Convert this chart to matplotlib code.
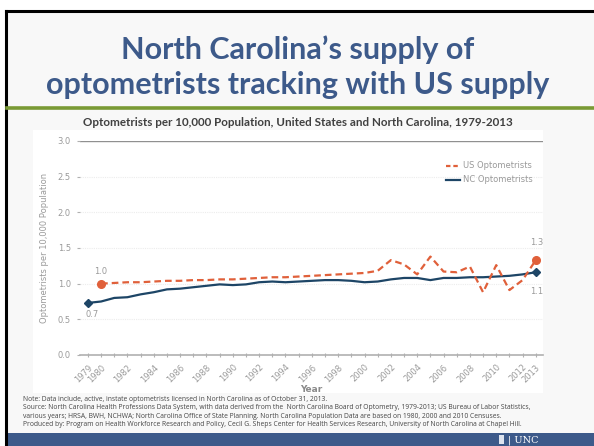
import numpy as np
import matplotlib
matplotlib.use("Agg")
import matplotlib.pyplot as plt
from matplotlib.patches import Rectangle
from matplotlib.lines import Line2D

W, H = 594, 446

# ---- data ----
nc_years = list(range(1979, 2014))
nc_vals = [0.73, 0.75, 0.80, 0.81, 0.85, 0.88, 0.92, 0.93, 0.95, 0.97,
           0.99, 0.98, 0.99, 1.02, 1.03, 1.02, 1.03, 1.04, 1.05, 1.05,
           1.04, 1.02, 1.03, 1.06, 1.08, 1.08, 1.05, 1.08, 1.08, 1.09,
           1.09, 1.10, 1.11, 1.13, 1.16]
us_years = list(range(1980, 2014))
us_vals = [1.00, 1.01, 1.02, 1.02, 1.03, 1.04, 1.04, 1.05, 1.05, 1.06,
           1.06, 1.07, 1.08, 1.09, 1.09, 1.10, 1.11, 1.12, 1.13, 1.14,
           1.15, 1.18, 1.33, 1.27, 1.13, 1.38, 1.17, 1.16, 1.24, 0.88,
           1.26, 0.91, 1.05, 1.33]
tick_years = [1979, 1980] + list(range(1982, 2013, 2)) + [2013]
yticks = [0.0, 0.5, 1.0, 1.5, 2.0, 2.5, 3.0]

TITLE = "North Carolina\u2019s supply of\noptometrists tracking with US supply"
SUBTITLE = "Optometrists per 10,000 Population, United States and North Carolina, 1979-2013"
NOTES = ("Note: Data include, active, instate optometrists licensed in North Carolina as of October 31, 2013.\n"
         "Source: North Carolina Health Professions Data System, with data derived from the  North Carolina Board of Optometry, 1979-2013; US Bureau of Labor Statistics,\n"
         "various years; HRSA, BWH, NCHWA; North Carolina Office of State Planning. North Carolina Population Data are based on 1980, 2000 and 2010 Censuses.\n"
         "Produced by: Program on Health Workforce Research and Policy, Cecil G. Sheps Center for Health Services Research, University of North Carolina at Chapel Hill.")

ORANGE = "#e0603a"
NAVY = "#1d4566"
SLIDE_BLUE = "#3d5a8a"
GREY = "#9a9a9a"


def fx(x):
    return x / W


def fy(y):
    return 1 - y / H


fig = plt.figure(figsize=(W / 100, H / 100), dpi=100)
fig.patch.set_facecolor("white")

# slide background, border, rules
bg = fig.add_axes([0, 0, 1, 1])
bg.set_xlim(0, W); bg.set_ylim(H, 0); bg.axis("off")
bg.add_patch(Rectangle((6, 11), W - 6, H - 11, facecolor="#f8f8f8", edgecolor="none"))
bg.add_patch(Rectangle((33, 130), 510, 263, facecolor="white", edgecolor="none"))
bg.plot([6, W], [11, 11], color="black", lw=2.2)
bg.plot([6, 6], [11, H], color="black", lw=2.2)
bg.plot([7, W], [108, 108], color="#7a9a35", lw=2.6)
bg.add_patch(Rectangle((7, 433), W - 7, 13, facecolor=SLIDE_BLUE, edgecolor="none"))
bg.add_patch(Rectangle((499, 435), 5, 9, facecolor="#dde3ee", edgecolor="none"))
bg.text(508, 440, "| UNC", color="white", fontsize=7, family="DejaVu Serif", va="center")

fig.text(fx(298), fy(67), TITLE, ha="center", va="center", fontsize=22,
         family="Lato", weight="bold", color=SLIDE_BLUE, linespacing=1.32)
fig.text(fx(298), fy(122), SUBTITLE, ha="center", va="center", fontsize=8.4,
         family="Lato", weight="bold", color="#404040")
fig.text(fx(23), fy(396), NOTES, ha="left", va="top", fontsize=4.85,
         family="Open Sans", color="#444444", linespacing=1.25)

# chart
ax = fig.add_axes([fx(80), fy(355), (543 - 80) / W, (355 - 141) / H])
ax.set_facecolor("none")
ax.set_xlim(1978.4, 2013.55)
ax.set_ylim(0, 3.0)
for s in ["left", "right", "top"]:
    ax.spines[s].set_visible(False)
ax.spines["bottom"].set_color("#b0b0b0")
ax.spines["bottom"].set_linewidth(1.2)

for v in yticks[1:-1]:
    ax.axhline(v, color="#ececec", lw=0.8, ls=(0, (1, 1)), zorder=0)
ax.axhline(3.0, color="#909090", lw=1.0, zorder=0)

ax.plot(nc_years, nc_vals, color=NAVY, lw=1.6, zorder=3)
ax.plot(us_years, us_vals, color=ORANGE, lw=1.6, ls=(0, (3, 1.8)), zorder=4)
ax.plot([nc_years[0], nc_years[-1]], [nc_vals[0], nc_vals[-1]], ls="none",
        marker="D", ms=4.2, color=NAVY, zorder=5)
ax.plot([us_years[0], us_years[-1]], [us_vals[0], us_vals[-1]], ls="none",
        marker="o", ms=5.5, color=ORANGE, zorder=5)

lab = dict(fontsize=6, color=GREY, ha="center", va="center")
ax.annotate(f"{us_vals[0]:.1f}", (us_years[0], us_vals[0]), xytext=(0, 9), textcoords="offset points", **lab)
ax.annotate(f"{nc_vals[0]:.1f}", (nc_years[0], nc_vals[0]), xytext=(3, -8), textcoords="offset points", **lab)
ax.annotate("1.3", (us_years[-1], us_vals[-1]), xytext=(1, 13), textcoords="offset points", **lab)
ax.annotate("1.1", (nc_years[-1], nc_vals[-1]), xytext=(1, -14), textcoords="offset points", **lab)

ax.set_yticks(yticks)
ax.set_yticklabels([f"{v:.1f}" for v in yticks])
ax.tick_params(axis="y", length=2.5, width=0.8, color="#b0b0b0", labelcolor=GREY,
               labelsize=6, pad=4)
ax.set_xticks(tick_years)
ax.set_xticklabels([str(y) for y in tick_years], rotation=45, ha="right",
                   rotation_mode="anchor")
ax.set_xticks(nc_years, minor=True)
ax.tick_params(axis="x", which="both", direction="inout", length=3, width=0.8,
               color="#b0b0b0", labelcolor=GREY, labelsize=6, pad=4)

ax.set_ylabel("Optometrists per 10,000 Population", fontsize=6, color=GREY, labelpad=6)
ax.set_xlabel("Year", fontsize=6.5, color="#8a8a8a", weight="bold", labelpad=1)

handles = [Line2D([], [], color=ORANGE, lw=1.6, ls=(0, (2, 1.3))),
           Line2D([], [], color=NAVY, lw=1.6)]
ax.legend(handles, ["US Optometrists", "NC Optometrists"], loc="upper right",
          bbox_to_anchor=(0.985, 0.92), frameon=False, fontsize=6,
          labelcolor=GREY, handlelength=1.6, handletextpad=0.4, labelspacing=0.6,
          borderaxespad=0)

fig.savefig("out.png", dpi=100)
